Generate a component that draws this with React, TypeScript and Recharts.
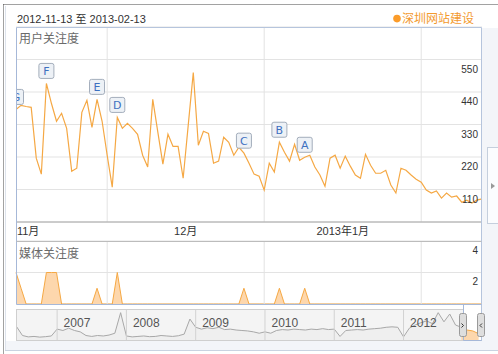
import React from 'react';
import { LineChart, Line, AreaChart, Area, XAxis, YAxis, CartesianGrid, ReferenceLine } from 'recharts';

const FONT = "'Liberation Sans', 'Noto Sans CJK SC', sans-serif";
const CJK = "'Noto Sans CJK SC', 'Liberation Sans', sans-serif";

// Daily user attention index, 2012-11-13 .. 2013-02-13
const userIndex = [
  381, 395, 391, 388, 216, 162, 469, 401, 341, 368,
  317, 172, 182, 371, 412, 320, 415, 341, 226, 118,
  354, 317, 334, 317, 297, 226, 186, 415, 304, 196,
  297, 256, 256, 148, 327, 506, 260, 307, 300, 199,
  206, 287, 270, 226, 253, 233, 199, 162, 155, 108,
  199, 169, 270, 236, 206, 263, 209, 219, 226, 186,
  159, 121, 216, 226, 182, 223, 189, 159, 148, 229,
  192, 165, 165, 175, 125, 98, 182, 175, 159, 145,
  135, 108, 98, 105, 81, 98, 84, 88, 67, 74,
  64, 74, 78,
];

// Daily media attention index
const mediaIndex = [
  2, 1, 0, 0, 0, 0, 2, 2, 2, 0,
  0, 0, 0, 0, 0, 0, 1, 0, 0, 0,
  2, 0, 0, 0, 0, 0, 0, 0, 0, 0,
  0, 0, 0, 0, 0, 0, 0, 0, 0, 0,
  0, 0, 0, 0, 0, 1, 0, 0, 0, 0,
  0, 0, 1, 0, 0, 0, 0, 1, 0, 0,
  0, 0, 0, 0, 0, 0, 0, 0, 0, 0,
  0, 0, 0, 0, 0, 0, 0, 0, 0, 0,
  0, 0, 0, 0, 0, 0, 0, 0, 0, 0,
  0, 0, 0,
];

const flagDays = [0, 6, 16, 20, 45, 52, 57];
const flagLetters = ['G', 'F', 'E', 'D', 'C', 'B', 'A'];

const monthStarts = [18, 49, 80];
const monthTickDays = [2.4, 33.5, 64.5];
const monthTickLabels = ['11月', '12月', '2013年1月'];

const userTicks = [0, 110, 220, 330, 440, 550, 660];
const mediaTicks = [0, 2, 4];

// Overview (navigator) monthly values, 2006-06 .. 2012-11
const navValues = [
  310, 120, 90, 100, 85, 95, 110,
  260, 230, 280, 230, 200, 120, 100, 120, 110, 130, 170, 620,
  110, 90, 100, 110, 95, 100, 120, 110, 100, 115, 150, 480,
  300, 260, 290, 270, 300, 250, 260, 240, 230, 220, 200, 170,
  200, 170, 230, 250, 240, 260, 250, 240, 260, 250, 270, 250,
  260, 100, 230, 240, 250, 240, 260, 270, 280, 300, 310, 300,
  90, 280, 350, 400, 440, 380, 620, 420, 590, 350, 300,
];
// Selected window values, 2012-11 .. 2013-02
const selValues = [300, 240, 220, 160];
const navYears = [2007, 2008, 2009, 2010, 2011, 2012];

const mainData = userIndex.map((v, i) => {
  const fi = flagDays.indexOf(i);
  return { day: i, user: v, media: mediaIndex[i], flag: fi >= 0 ? flagLetters[fi] : null };
});

const navData: any[] = [];
navValues.forEach((v, i) => {
  navData.push({ t: 2006 + (5 + i) / 12, nav: v, sel: i === navValues.length - 1 ? selValues[0] : null });
});
selValues.slice(1).forEach((v, j) => {
  navData.push({ t: 2012 + (11 + j) / 12, nav: null, sel: v });
});

const renderFlag = (props: any) => {
  const { cx, cy, payload, index } = props;
  if (!payload || !payload.flag) return <g key={`f${index}`} />;
  return (
    <g key={`f${index}`}>
      <rect x={cx - 7.5} y={cy - 20} width={15} height={15} rx={2} fill="#edf1f6" stroke="#a3adbb" />
      <text x={cx} y={cy - 8} textAnchor="middle" fontSize={11} fill="#3d70c0" fontFamily="'DejaVu Sans', sans-serif">
        {payload.flag}
      </text>
    </g>
  );
};

const MonthTick = (props: any) => {
  const { x, y, payload } = props;
  const i = monthTickDays.indexOf(payload.value);
  return (
    <text x={x} y={y + 13} textAnchor="middle" fontSize={11} fill="#333" fontFamily={FONT}>
      {monthTickLabels[i]}
    </text>
  );
};

const UserYTick = (props: any) => {
  const { x, y, payload } = props;
  if (payload.value === 0 || payload.value === 660) return <g />;
  return (
    <text x={x} y={y + 13} textAnchor="end" fontSize={10} fill="#333" fontFamily={FONT}>
      {payload.value}
    </text>
  );
};

const MediaYTick = (props: any) => {
  const { x, y, payload } = props;
  if (payload.value === 0) return <g />;
  return (
    <text x={x} y={y + 12.5} textAnchor="end" fontSize={10} fill="#333" fontFamily={FONT}>
      {payload.value}
    </text>
  );
};

const YearTick = (props: any) => {
  const { x, y, payload } = props;
  return (
    <text x={x + 6.5} y={y - 14} textAnchor="start" fontSize={12} fill="#555" fontFamily={FONT}>
      {payload.value}
    </text>
  );
};

export default function App() {
  return (
    <div style={{ position: 'absolute', left: 0, top: 0, width: 498, height: 354, background: '#fff', overflow: 'hidden', fontFamily: FONT }}>
      {/* background panels */}
      <div style={{ position: 'absolute', left: 482, top: 28, width: 16, height: 322, background: '#f3f5f9' }} />
      <div style={{ position: 'absolute', left: 6, top: 341, width: 476, height: 9, background: '#f3f5f9' }} />
      <div style={{ position: 'absolute', left: 17, top: 310, width: 446, height: 30, background: '#f4f4f4' }} />

      {/* main chart */}
      <div style={{ position: 'absolute', left: 0, top: 0 }}>
        <LineChart width={498} height={240} data={mainData} margin={{ top: 27, right: 16, bottom: 0, left: 16 }}>
          <CartesianGrid vertical={false} stroke="#e3e3e3" />
          <XAxis
            type="number"
            dataKey="day"
            domain={[0, 92]}
            ticks={monthTickDays}
            interval={0}
            tick={MonthTick}
            tickLine={false}
            tickSize={0}
            tickMargin={0}
            height={18}
            axisLine={{ stroke: '#a6a6a6' }}
          />
          <YAxis
            orientation="right"
            mirror
            width={20}
            domain={[0, 660]}
            ticks={userTicks}
            interval={0}
            tick={UserYTick}
            axisLine={false}
            tickLine={false}
            tickSize={0}
            tickMargin={4}
          />
          {monthStarts.map((d) => (
            <ReferenceLine key={d} x={d} stroke="#e3e3e3" />
          ))}
          <Line
            type="linear"
            dataKey="user"
            stroke="#f5a844"
            strokeWidth={1.2}
            dot={renderFlag}
            activeDot={false}
            isAnimationActive={false}
          />
        </LineChart>
      </div>

      {/* media chart */}
      <div style={{ position: 'absolute', left: 0, top: 230 }}>
        <AreaChart width={498} height={74} data={mainData} margin={{ top: 11, right: 16, bottom: 0, left: 16 }}>
          <CartesianGrid vertical={false} stroke="#e3e3e3" />
          <XAxis type="number" dataKey="day" domain={[0, 92]} hide />
          <YAxis
            orientation="right"
            mirror
            width={20}
            domain={[0, 4]}
            ticks={mediaTicks}
            interval={0}
            tick={MediaYTick}
            axisLine={false}
            tickLine={false}
            tickSize={0}
            tickMargin={4}
          />
          {monthStarts.map((d) => (
            <ReferenceLine key={d} x={d} stroke="#e3e3e3" />
          ))}
          <Area
            type="linear"
            dataKey="media"
            stroke="#f5a844"
            strokeWidth={1}
            fill="#fdd7ad"
            fillOpacity={1}
            dot={false}
            activeDot={false}
            isAnimationActive={false}
          />
        </AreaChart>
      </div>

      {/* navigator */}
      <div style={{ position: 'absolute', left: 0, top: 300 }}>
        <AreaChart width={498} height={42} data={navData} margin={{ top: 9, right: 16.3, bottom: 0, left: 16.7 }}>
          <XAxis
            type="number"
            dataKey="t"
            domain={[2006.424, 2013.128]}
            ticks={navYears}
            interval={0}
            tick={YearTick}
            tickLine={false}
            axisLine={false}
            tickSize={0}
            tickMargin={0}
            height={1}
          />
          <YAxis hide domain={[0, 700]} />
          {navYears.map((y) => (
            <ReferenceLine key={y} x={y} stroke="#d2d2d2" />
          ))}
          <Area
            type="linear"
            dataKey="nav"
            stroke="#a8a8a8"
            strokeWidth={1}
            fill="#ebebeb"
            fillOpacity={0.6}
            dot={false}
            activeDot={false}
            connectNulls={false}
            isAnimationActive={false}
          />
          <Area
            type="linear"
            dataKey="sel"
            stroke="#f5a844"
            strokeWidth={1}
            fill="#fdd7ad"
            fillOpacity={1}
            dot={false}
            activeDot={false}
            connectNulls={false}
            isAnimationActive={false}
          />
        </AreaChart>
      </div>

      {/* overlay decorations */}
      <svg width={498} height={354} style={{ position: 'absolute', left: 0, top: 0 }}>
        <rect x={5} y={28} width={11.5} height={194} fill="#fff" />
        <line x1={3.5} y1={4.5} x2={498} y2={4.5} stroke="#444" strokeDasharray="1 1" />
        <line x1={3.5} y1={4.5} x2={3.5} y2={354} stroke="#444" strokeDasharray="1 1" />
        <line x1={5.5} y1={6} x2={5.5} y2={350} stroke="#dde3ec" />
        <line x1={5} y1={350.5} x2={498} y2={350.5} stroke="#c9d3e1" />

        <line x1={16.5} y1={27.5} x2={481.5} y2={27.5} stroke="#b6c5dd" />
        <line x1={16.5} y1={27.5} x2={16.5} y2={304.5} stroke="#a6b8d8" />
        <line x1={481.5} y1={27.5} x2={481.5} y2={341} stroke="#b6c5dd" />
        <line x1={16.5} y1={241.5} x2={481.5} y2={241.5} stroke="#bcbcbc" />
        <line x1={16.5} y1={304.5} x2={481.5} y2={304.5} stroke="#a6b8d8" />
        <rect x={16.5} y={309.5} width={447} height={31} fill="none" stroke="#cfcfcf" />
        <line x1={463.5} y1={304.5} x2={463.5} y2={340.5} stroke="#a6b8d8" />
        <line x1={463.5} y1={340.5} x2={481.5} y2={340.5} stroke="#a6b8d8" />

        <rect x={459.5} y={313.5} width={7} height={23} rx={2} fill="#dedede" stroke="#9a9a9a" />
        <path d="M461.5 323.5 L463.5 325.5 L461.5 327.5" fill="none" stroke="#333" strokeWidth={1} />
        <rect x={477.5} y={313.5} width={7} height={23} rx={2} fill="#dedede" stroke="#9a9a9a" />
        <path d="M482 323.5 L480 325.5 L482 327.5" fill="none" stroke="#333" strokeWidth={1} />

        <rect x={487.5} y={147.5} width={12} height={76} fill="#fbfcfe" stroke="#c5cfdd" />
        <path d="M491 183 L495 186 L491 189 Z" fill="#999" />

        <text x={17} y={22.7} fontSize={11} fill="#333" fontFamily={FONT}>2012-11-13 至 2013-02-13</text>
        <circle cx={397} cy={18.6} r={3.8} fill="#fb9c2a" />
        <text x={402} y={23} fontSize={12} fill="#f39a2e" fontFamily={CJK}>深圳网站建设</text>
        <text x={19} y={42.5} fontSize={12} fill="#6a6a6a" fontFamily={CJK}>用户关注度</text>
        <text x={19} y={257.5} fontSize={12} fill="#6a6a6a" fontFamily={CJK}>媒体关注度</text>
      </svg>
    </div>
  );
}
